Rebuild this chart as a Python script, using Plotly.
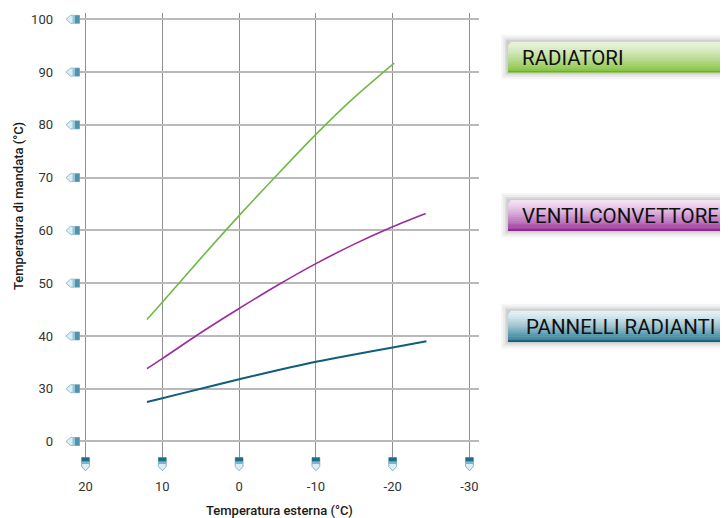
import plotly.graph_objects as go

# ---------------- data ----------------
x_ticks = [20, 10, 0, -10, -20, -30]
x_ticktext = ["20", "10", "0", "-10", "-20", "-30"]
y_ticks = [20, 30, 40, 50, 60, 70, 80, 90, 100]
y_ticktext = ["0", "30", "40", "50", "60", "70", "80", "90", "100"]

radiatori_x = [12, 10, 5, 0, -5, -10, -15, -20.2]
radiatori_y = [43.1, 46.4, 54.7, 62.8, 70.6, 78.2, 85.2, 91.7]

ventil_x = [12, 10, 5, 0, -5, -10, -15, -20, -24.3]
ventil_y = [33.8, 35.7, 40.6, 45.2, 49.6, 53.7, 57.4, 60.7, 63.2]

pannelli_x = [12, 10, 5, 0, -5, -10, -15, -20, -24.4]
pannelli_y = [27.5, 28.2, 30.0, 31.8, 33.5, 35.1, 36.5, 37.8, 39.0]

series_names = ["RADIATORI", "VENTILCONVETTORE", "PANNELLI RADIANTI"]
series_colors = ["#6dbb45", "#9a2b9c", "#0f5f7a"]

# ---------------- layout geometry (screen pixels, page has 8px body margin) ----------------
OFF = 8
W, H = 728 - OFF, 518 - OFF
L, R, T, B = 79, 479, 13, 457          # plot area in screenshot pixels
x_range = [20.85, -31.24]
y_range = [17.06, 101.2]


def px(xp):
    return (xp - L) / (R - L)


def py(yp):
    return (B - yp) / (B - T)


def pix_x(v):
    return L + (v - x_range[0]) / (x_range[1] - x_range[0]) * (R - L)


def pix_y(v):
    return B - (v - y_range[0]) / (y_range[1] - y_range[0]) * (B - T)


fig = go.Figure()

for name, xs, ys, col, w in zip(
    series_names,
    [radiatori_x, ventil_x, pannelli_x],
    [radiatori_y, ventil_y, pannelli_y],
    series_colors,
    [1.6, 1.6, 2.0],
):
    fig.add_trace(go.Scatter(
        x=xs, y=ys, mode="lines", name=name,
        line=dict(color=col, width=w, shape="spline", smoothing=0.8),
        showlegend=False, hoverinfo="skip",
    ))

shapes = []
annotations = []


def path(points):
    s = "M " + " L ".join("%.5f,%.5f" % (px(a), py(b)) for a, b in points) + " Z"
    return s


# x tick markers (shield pointing down)
for v in x_ticks:
    cx = pix_x(v)
    top, hw = 457.5, 3.9
    shapes.append(dict(type="path", xref="paper", yref="paper",
                       path=path([(cx - hw, top), (cx + hw, top), (cx + hw, top + 9),
                                  (cx, top + 13.3), (cx - hw, top + 9)]),
                       fillcolor="#dcedf3", line=dict(color="#6fa5b9", width=0.8), layer="above"))
    shapes.append(dict(type="path", xref="paper", yref="paper",
                       path=path([(cx - hw, top), (cx + hw, top), (cx + hw, top + 4.2),
                                  (cx - hw, top + 4.2)]),
                       fillcolor="#1b6d89", line=dict(width=0), layer="above"))
    shapes.append(dict(type="path", xref="paper", yref="paper",
                       path=path([(cx - hw, top + 4.2), (cx + hw, top + 4.2), (cx + hw, top + 6.5),
                                  (cx - hw, top + 6.5)]),
                       fillcolor="#7fb5c8", line=dict(width=0), layer="above"))

# y tick markers (pointing left)
for v in y_ticks:
    cy = pix_y(v)
    right, hh = 79.5, 4.0
    shapes.append(dict(type="path", xref="paper", yref="paper",
                       path=path([(right, cy - hh), (right, cy + hh), (right - 9, cy + hh),
                                  (right - 13.5, cy), (right - 9, cy - hh)]),
                       fillcolor="#dcedf3", line=dict(color="#7fb1c4", width=0.8), layer="above"))
    shapes.append(dict(type="path", xref="paper", yref="paper",
                       path=path([(right, cy - hh), (right, cy + hh), (right - 4.5, cy + hh),
                                  (right - 4.5, cy - hh)]),
                       fillcolor="#4f93b0", line=dict(width=0), layer="above"))
    shapes.append(dict(type="path", xref="paper", yref="paper",
                       path=path([(right - 4.5, cy - hh), (right - 4.5, cy + hh), (right - 7, cy + hh),
                                  (right - 7, cy - hh)]),
                       fillcolor="#98c6d7", line=dict(width=0), layer="above"))

# ---------------- legend boxes ----------------
boxes = [
    (41.7, 72.3, "#e8f4da", "#86c23f", "#6fae2c", 520.7),
    (200.0, 230.7, "#f5e2f4", "#9e379e", "#83247f", 520.7),
    (310.7, 341.7, "#e6f3f7", "#2a7c96", "#0d5670", 525.0),
]


def mix(c1, c2, t):
    a = [int(c1[i:i + 2], 16) for i in (1, 3, 5)]
    b = [int(c2[i:i + 2], 16) for i in (1, 3, 5)]
    return "#%02x%02x%02x" % tuple(round(a[k] + (b[k] - a[k]) * t) for k in range(3))


for (top, bot, ctop, cbot, cedge, tx), name in zip(boxes, series_names):
    left = 508
    for g, op in [(7, 0.035), (5, 0.045), (3, 0.06), (1.5, 0.07)]:
        shapes.append(dict(type="rect", xref="paper", yref="paper",
                           x0=px(left - g), x1=px(740), y0=py(bot + g), y1=py(top - g),
                           fillcolor="rgba(0,0,0,%s)" % op, line=dict(width=0), layer="above"))
    n = 18
    hgt = bot - top
    for i in range(n):
        t = i / (n - 1)
        c = mix(ctop, cbot, t ** 1.3)
        y0 = top + hgt * i / n
        y1 = top + hgt * (i + 1) / n
        x0 = left + (2.5 if i == 0 else (1 if i == 1 else 0))
        shapes.append(dict(type="rect", xref="paper", yref="paper",
                           x0=px(x0), x1=px(740), y0=py(y1 + 0.3), y1=py(y0),
                           fillcolor=c, line=dict(width=0), layer="above"))
    shapes.append(dict(type="rect", xref="paper", yref="paper",
                       x0=px(left), x1=px(740), y0=py(bot), y1=py(bot - 1.2),
                       fillcolor=cedge, line=dict(width=0), layer="above"))
    annotations.append(dict(xref="paper", yref="paper", x=px(tx - 1), y=py((top + bot) / 2 + 0.5),
                            xanchor="left", yanchor="middle", showarrow=False,
                            text=name, font=dict(family="Roboto", size=20.5, color="#111111")))

# axis titles
annotations.append(dict(xref="paper", yref="paper", x=px(279.5), y=py(510.5),
                        xanchor="center", yanchor="middle", showarrow=False,
                        text="Temperatura esterna (°C)",
                        font=dict(family="Roboto", size=13, color="#1a1a1a", weight=500)))
annotations.append(dict(xref="paper", yref="paper", x=px(18), y=py(206),
                        xanchor="center", yanchor="middle", showarrow=False, textangle=-90,
                        text="Temperatura di mandata (°C)",
                        font=dict(family="Roboto", size=13, color="#1a1a1a", weight=500)))

fig.update_layout(
    width=W, height=H,
    margin=dict(l=L - OFF, r=W - (R - OFF), t=T - OFF, b=H - (B - OFF), pad=0),
    paper_bgcolor="white", plot_bgcolor="white",
    shapes=shapes, annotations=annotations,
    font=dict(family="Roboto", size=13, color="#333333"),
)
fig.update_xaxes(range=x_range, tickvals=x_ticks, ticktext=x_ticktext,
                 showgrid=True, gridcolor="#8f8f8f", gridwidth=1.2,
                 zeroline=False, showline=False, ticks="", ticklabelstandoff=20,
                 tickfont=dict(family="Roboto", size=13, color="#333333"), fixedrange=True)
fig.update_yaxes(range=y_range, tickvals=y_ticks, ticktext=y_ticktext,
                 showgrid=True, gridcolor="#b9b9b9", gridwidth=1.6,
                 zeroline=False, showline=False, ticks="", ticklabelstandoff=25,
                 tickfont=dict(family="Roboto", size=13, color="#333333"), fixedrange=True)

fig.write_html("out.html")
